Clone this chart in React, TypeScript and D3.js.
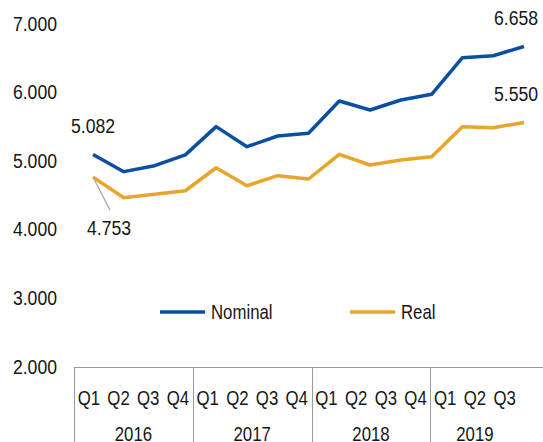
import { useEffect, useRef } from 'react';
import * as d3 from 'd3';

const quarters = ['Q1', 'Q2', 'Q3', 'Q4', 'Q1', 'Q2', 'Q3', 'Q4', 'Q1', 'Q2', 'Q3', 'Q4', 'Q1', 'Q2', 'Q3'];
const years = ['2016', '2017', '2018', '2019'];
const yearQuarters = [4, 4, 4, 3];
const nominal = [5082, 4833, 4920, 5078, 5489, 5197, 5353, 5392, 5863, 5732, 5878, 5961, 6494, 6523, 6658];
const real = [4753, 4453, 4503, 4555, 4890, 4628, 4774, 4726, 5086, 4930, 5003, 5051, 5489, 5474, 5550];
const yTicks = [2000, 3000, 4000, 5000, 6000, 7000];

const W = 543;
const H = 442;
const FONT = '"Liberation Sans", Arial, sans-serif';
const SQUEEZE = 0.84; // narrow look of the original font
const BLUE = '#0b4fa2';
const GOLD = '#e9a42b';

const fmt = (v: number) => d3.format(',')(v).replace(/,/g, '.');

export default function App() {
  const ref = useRef<SVGSVGElement>(null);

  useEffect(() => {
    const svg = d3.select(ref.current);
    svg.selectAll('*').remove();

    // narrow text helper
    const label = (g: any, data: any[], px: (d: any, i: number) => number, py: (d: any, i: number) => number,
      txt: (d: any) => string, size: number, anchor = 'middle') => {
      g.selectAll('text.lbl')
        .data(data)
        .join('text')
        .attr('class', 'lbl')
        .attr('transform', (d: any, i: number) => `translate(${px(d, i)},${py(d, i)}) scale(${SQUEEZE},1)`)
        .attr('text-anchor', anchor)
        .style('font', `${size}px ${FONT}`)
        .attr('fill', '#161616')
        .text(txt);
    };

    const idx = d3.range(quarters.length);
    const x = d3.scalePoint<number>().domain(idx).range([93, 524]);
    const y = d3.scaleLinear().domain([2000, 7000]).range([366, 23]);
    // category axis box uses its own band width
    const qx = d3.scaleBand<number>().domain(d3.range(16)).range([74, 74 + 16 * 29.7]);

    // y tick labels
    label(svg.append('g'), yTicks, () => 57, d => y(d) + 7.5, d => fmt(d), 21, 'end');

    // category axis box
    const axis = svg.append('g').attr('stroke', '#9a9a9a').attr('stroke-width', 1);
    axis.append('line').attr('x1', 74).attr('x2', W).attr('y1', 367.5).attr('y2', 367.5);
    let acc = 0;
    const starts: number[] = [];
    yearQuarters.forEach(n => { starts.push(acc); acc += n; });
    axis.selectAll('line.sep')
      .data(starts)
      .join('line')
      .attr('class', 'sep')
      .attr('x1', d => Math.round(qx(d)!) + 0.5)
      .attr('x2', d => Math.round(qx(d)!) + 0.5)
      .attr('y1', 367)
      .attr('y2', H);

    label(svg.append('g'), quarters, (_, i) => qx(i)! + qx.bandwidth() / 2, () => 405, d => d, 20);
    label(svg.append('g'), years,
      (_, i) => (qx(starts[i])! + qx(starts[i] + yearQuarters[i] - 1)! + qx.bandwidth()) / 2,
      () => 441, d => d, 20);

    // lines
    const line = d3.line<number>().x((_, i) => x(i)!).y(d => y(d));
    [[nominal, BLUE], [real, GOLD]].forEach(([vals, color]) => {
      svg.append('path')
        .datum(vals as number[])
        .attr('fill', 'none')
        .attr('stroke', color as string)
        .attr('stroke-width', 3.5)
        .attr('stroke-linejoin', 'round')
        .attr('d', line);
    });

    // data labels
    const last = quarters.length - 1;
    svg.append('line')
      .attr('x1', x(0)!).attr('y1', y(real[0]))
      .attr('x2', x(0)! + 17).attr('y2', y(real[0]) + 33)
      .attr('stroke', '#aaa').attr('stroke-width', 1.2);
    const notes = [
      { t: fmt(nominal[0]), x: x(0)!, y: y(nominal[0]) - 22 },
      { t: fmt(real[0]), x: x(0)! + 16, y: y(real[0]) + 58 },
      { t: fmt(nominal[last]), x: x(last)! - 8, y: y(nominal[last]) - 21 },
      { t: fmt(real[last]), x: x(last)! - 8, y: y(real[last]) - 21 },
    ];
    label(svg.append('g'), notes, d => d.x, d => d.y, d => d.t, 21);

    // legend
    const legend = [
      { name: 'Nominal', color: BLUE, x: 160 },
      { name: 'Real', color: GOLD, x: 350 },
    ];
    const lg = svg.append('g');
    lg.selectAll('line').data(legend).join('line')
      .attr('x1', d => d.x).attr('x2', d => d.x + 45)
      .attr('y1', 312).attr('y2', 312)
      .attr('stroke', d => d.color).attr('stroke-width', 3.5);
    label(lg, legend, d => d.x + 51, () => 319, d => d.name, 20, 'start');
  }, []);

  return <svg ref={ref} width={W} height={H} style={{ position: 'absolute', left: 0, top: 0, background: '#fff' }} />;
}
